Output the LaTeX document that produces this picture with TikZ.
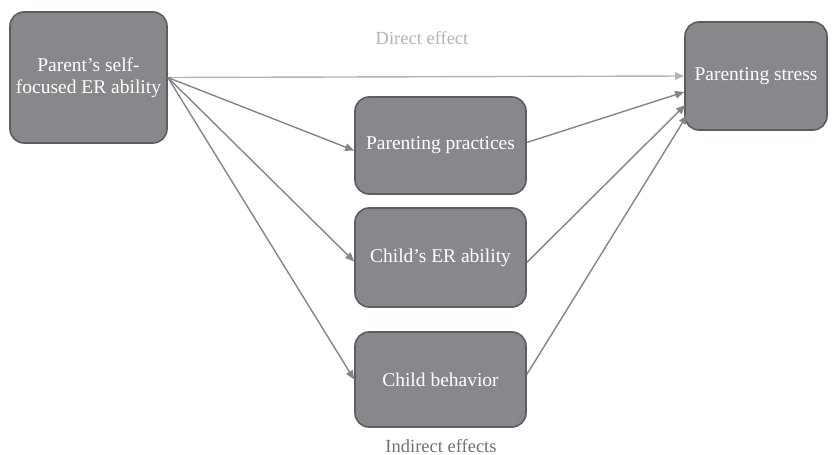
\documentclass[tikz,border=0pt]{standalone}
\usepackage{fontspec}
\setmainfont{Liberation Serif}
\usepackage{xcolor}
\usetikzlibrary{arrows.meta,positioning,calc}

\definecolor{boxfill}{HTML}{87888C}
\definecolor{boxline}{HTML}{5C5D61}
\definecolor{pathgray}{HTML}{848588}
\definecolor{directgray}{HTML}{B4B4B4}

\tikzset{
	mbox/.style={draw=boxline,line width=1.6pt,fill=boxfill,rounded corners=14pt,
		text=white,align=center,font=\fontsize{19.5}{22}\selectfont,inner sep=0pt},
	path arrow/.style={draw=pathgray,line width=1.4pt,-{Triangle[length=9pt,width=7.5pt]}},
	direct arrow/.style={path arrow,draw=directgray},
	lbl/.style={font=\fontsize{18.5}{20}\selectfont}
}

\begin{document}
\begin{tikzpicture}[x=1pt,y=-1pt]
		\useasboundingbox (0,0) rectangle (836,455);
		% boxes
		\node[mbox,minimum width=157pt,minimum height=131pt] (parent) at (88.5,77.5) {Parent's self-\\focused ER ability};
		\node[mbox,minimum width=142pt,minimum height=108pt] (stress) at (756,76) {Parenting stress};
		\node[mbox,minimum width=171pt,minimum height=97pt] (practices) at (440.5,145.5) {Parenting practices};
		\node[mbox,minimum width=171pt,minimum height=99pt] (childer) at (440.5,257.5) {Child's ER ability};
		\node[mbox,minimum width=171pt,minimum height=95pt] (behavior) at (440.5,379.5) {Child behavior};
		% labels
		\node[lbl,text=directgray] (direct) at (422,38) {Direct effect};
		\node[lbl,text=pathgray!85!black] (indirect) at (441,446) {Indirect effects};
		% direct path
		\draw[direct arrow] (parent.east) -- (stress.west);
		% indirect paths
		\draw[path arrow] (parent.east) -- ($(practices.west)+(0,5)$);
		\draw[path arrow] (parent.east) -- ($(childer.west)+(0,4)$);
		\draw[path arrow] (parent.east) -- (behavior.west);
		\draw[path arrow] ($(practices.east)+(0,-3)$) -- ($(stress.west)+(0,16)$);
		\draw[path arrow] ($(childer.east)+(0,5)$) -- ($(stress.west)+(1,29)$);
		\draw[path arrow] ($(behavior.east)+(0,-5)$) -- ($(stress.west)+(3,39)$);
	\end{tikzpicture}
\end{document}
